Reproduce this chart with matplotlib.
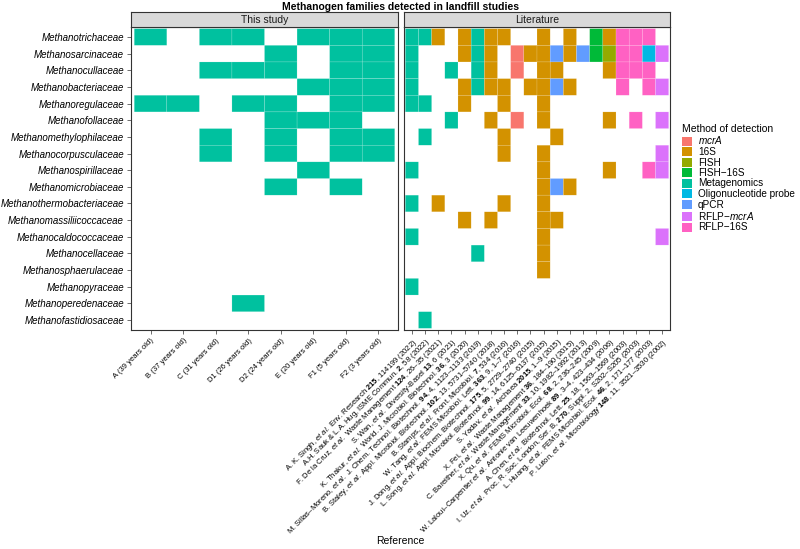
import numpy as np
import matplotlib.pyplot as plt
from matplotlib.colors import ListedColormap, BoundaryNorm
from matplotlib.patches import Patch

plt.rcParams['font.family'] = 'Liberation Sans'
plt.rcParams['mathtext.fontset'] = 'custom'
plt.rcParams['mathtext.rm'] = 'Liberation Sans'
plt.rcParams['mathtext.it'] = 'Liberation Sans:italic'
plt.rcParams['mathtext.bf'] = 'Liberation Sans:bold'

families = ["Methanotrichaceae", "Methanosarcinaceae", "Methanocullaceae",
            "Methanobacteriaceae", "Methanoregulaceae", "Methanofollaceae",
            "Methanomethylophilaceae", "Methanocorpusculaceae", "Methanospirillaceae",
            "Methanomicrobiaceae", "Methanothermobacteriaceae", "Methanomassiliicoccaceae",
            "Methanocaldococcaceae", "Methanocellaceae", "Methanosphaerulaceae",
            "Methanopyraceae", "Methanoperedenaceae", "Methanofastidiosaceae"]

sites = ["A (39 years old)", "B (37 years old)", "C (31 years old)", "D1 (26 years old)",
         "D2 (24 years old)", "E (20 years old)", "F1 (5 years old)", "F2 (3 years old)"]

references = [
    r"A. K. Singh, $\mathit{et\ al.}$ Env. Research $\mathbf{215}$, 114199 (2022)",
    r"A.H. Sauk & L.A. Hug, ISME Commun. $\mathbf{2}$, 58 (2022)",
    r"F. De la Cruz, $\mathit{et\ al.}$ Waste Management $\mathbf{124}$, 26–35 (2021)",
    r"S. Wan, $\mathit{et\ al.}$ Diversity-Basel $\mathbf{13}$, 6 (2021)",
    r"K. Thakur, $\mathit{et\ al.}$ World. J. Microbiol. Biotechnol. $\mathbf{36}$, 3 (2020)",
    r"M. Sillas–Moreno, $\mathit{et\ al.}$ J. Chem. Technol. Biotechnol. $\mathbf{94}$, 4, 1123–1133 (2019)",
    r"B. Staley, $\mathit{et\ al.}$ Appl. Microbiol. Biotechnol. $\mathbf{102}$, 13, 5731–5740 (2018)",
    r"B. Stamps, $\mathit{et\ al.}$ Front. Microbiol. $\mathbf{7}$, 534 (2016)",
    r"W. Tang, $\mathit{et\ al.}$ FEMS Microbiol. Lett. $\mathbf{363}$, 9, 1–7 (2016)",
    r"J. Dong, $\mathit{et\ al.}$ Appl. Biochem. Biotechnol. $\mathbf{175}$, 5, 2729–2740 (2015)",
    r"L. Song, $\mathit{et\ al.}$ Appl. Microbiol. Biotechnol. $\mathbf{99}$, 14, 6125–6137 (2015)",
    r"S. Yadav, $\mathit{et\ al.}$ Archaea $\mathbf{2015}$, 1–9 (2015)",
    r"X. Fei, $\mathit{et\ al.}$ Waste Management $\mathbf{36}$, 184–190 (2015)",
    r"C. Bareither, $\mathit{et\ al.}$ Waste Management $\mathbf{33}$, 10, 1982–1992 (2013)",
    r"X. Qu, $\mathit{et\ al.}$ FEMS Microbiol. Ecol. $\mathbf{68}$, 2, 236–245 (2009)",
    r"W. Laloui–Carpentier $\mathit{et\ al.}$ Antonie van Leeuwenhoek $\mathbf{89}$, 3–4, 423–434 (2006)",
    r"A. Chen, $\mathit{et\ al.}$ Biotechnol. Lett. $\mathbf{25}$, 18, 1563–1569 (2003)",
    r"I. Uz, $\mathit{et\ al.}$ Proc. R. Soc. London, Ser. B, $\mathbf{270}$, Suppl. 2, S202–S205 (2003)",
    r"L. Huang, $\mathit{et\ al.}$ FEMS Microbiol. Ecol. $\mathbf{46}$, 2, 171–177 (2003)",
    r"P. Luton, $\mathit{et\ al.}$ Microbiology $\mathbf{148}$, 11, 3521–3530 (2002)",
]

# 1 = detected by metagenomics in this study
study_detected = ["10110111", "00001011", "00111011", "00000111", "11011011",
                  "00001110", "00101011", "00101011", "00000100", "00001010",
                  "00000000", "00000000", "00000000", "00000000", "00000000",
                  "00000000", "00010000", "00000000"]

# one letter per reference, see method_keys
lit_method = ["mms.smss..s.s.gsppp.",
              "m...sms.assqsqgfppor",
              "m..m.ms.a.ss...sppp.",
              "m...smss.ssqs...p.pr",
              "mm..s..s..s.........",
              "...m..s.a.s....s.p.r",
              ".m.....s...s........",
              ".......s..s........r",
              "m.........s....s..pr",
              "..........sqs.......",
              "m.s....s..s.........",
              "....s.s...ss........",
              "m.........s........r",
              ".....m....s.........",
              "..........s.........",
              "m...................",
              "....................",
              ".m.................."]

methods = [r"$\mathit{mcrA}$", "16S", "FISH", "FISH−16S", "Metagenomics",
           "Oligonucleotide probe", "qPCR", r"RFLP−$\mathit{mcrA}$", "RFLP−16S"]
method_keys = "asfgmoqrp"
method_colors = ["#F8766D", "#D39200", "#93AA00", "#00BA38", "#00C19F",
                 "#00B9E3", "#619CFF", "#DB72FB", "#FF61C3"]

W, H = 800, 549
fig = plt.figure(figsize=(8, 5.49), dpi=100)


def px(x0, y0, x1, y1):
    return [x0 / W, 1 - y1 / H, (x1 - x0) / W, (y1 - y0) / H]


cmap = ListedColormap(method_colors)
norm = BoundaryNorm(np.arange(len(methods) + 1) - 0.5, len(methods))

study = np.array([[int(c) for c in row] for row in study_detected])
study_codes = np.ma.masked_where(study == 0, np.full(study.shape, method_keys.index('m')))
lit = np.array([[method_keys.find(c) for c in row] for row in lit_method])
lit_codes = np.ma.masked_less(lit, 0)

panels = [(131, 398, "This study", sites, study_codes),
          (404, 670, "Literature", references, lit_codes)]

for i, (x0, x1, strip, labels, codes) in enumerate(panels):
    ax = fig.add_axes(px(x0, 27, x1, 330))
    nrow, ncol = codes.shape
    ax.pcolor(np.arange(ncol + 1) - 0.5, np.arange(nrow + 1) - 0.5, codes,
              cmap=cmap, norm=norm, edgecolors=(1, 1, 1, 0.35), linewidth=0.3)
    ax.set_xlim(-0.6, ncol - 0.4)
    ax.set_ylim(nrow - 0.4, -0.6)
    ax.set_xticks(range(ncol))
    ax.set_xticklabels(labels, rotation=45, ha='right', va='top',
                       rotation_mode='anchor', fontsize=5.5)
    ax.set_yticks(range(nrow))
    if i == 0:
        ax.set_yticklabels(families, fontsize=7, fontstyle='italic')
    else:
        ax.tick_params(axis='y', left=False, labelleft=False)
    ax.tick_params(length=3, width=0.5, color='#333333', pad=2)
    for s in ax.spines.values():
        s.set_color('#333333')
        s.set_linewidth(0.8)

    sax = fig.add_axes(px(x0, 12, x1, 27))
    sax.set_facecolor('#D9D9D9')
    sax.set_xticks([])
    sax.set_yticks([])
    for s in sax.spines.values():
        s.set_color('#333333')
        s.set_linewidth(0.8)
    sax.text(0.5, 0.45, strip, ha='center', va='center', fontsize=7.5,
             color='#1A1A1A', transform=sax.transAxes)

handles = [Patch(facecolor=c, edgecolor='none', label=m)
           for c, m in zip(method_colors, methods)]
fig.legend(handles=handles, loc='upper left', bbox_to_anchor=(682 / W, 1 - 124 / H),
           title='Method of detection', fontsize=7.2, title_fontsize=7.5,
           frameon=False, handlelength=1.0, handleheight=1.02, labelspacing=0.05,
           handletextpad=0.6, alignment='left', borderpad=0, borderaxespad=0)

fig.text(0.5, 1 - 7 / H, "Methanogen families detected in landfill studies",
         ha='center', va='center', fontweight='bold', fontsize=7.5)
fig.text(400 / W, 1 - 541 / H, "Reference", ha='center', va='center', fontsize=7.5)

fig.savefig("out.png", dpi=100)
